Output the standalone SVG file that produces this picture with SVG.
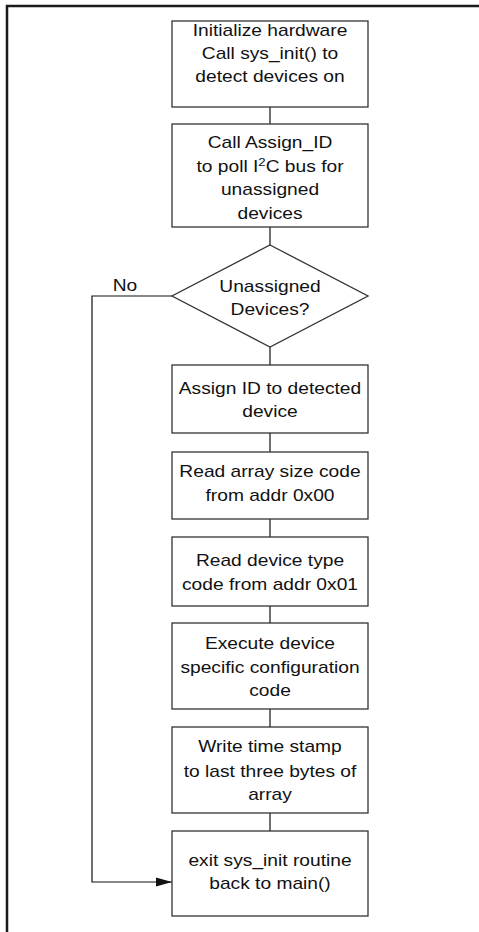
<svg xmlns="http://www.w3.org/2000/svg" width="479" height="932" viewBox="0 0 479 932">
<style>
.box{fill:#fff;stroke:#333;stroke-width:1.3}
.t{font-family:"Liberation Sans",Arial,sans-serif;font-size:16px;fill:#111;text-anchor:middle}
.c{fill:none;stroke:#111;stroke-width:1.2}
</style>
<defs>
<marker id="ah" markerWidth="16" markerHeight="10" refX="16" refY="5" orient="auto" markerUnits="userSpaceOnUse">
<path d="M0,0.5 L16,5 L0,9.5 Z" fill="#111"/>
</marker>
</defs>
<rect width="479" height="932" fill="#fff"/>
<path d="M7,932 V6 H479" fill="none" stroke="#1a1a1a" stroke-width="2.5"/>
<g id="connectors">
<line class="c" x1="270" y1="107" x2="270" y2="124"/>
<line class="c" x1="270" y1="227" x2="270" y2="245"/>
<line class="c" x1="270" y1="347" x2="270" y2="365"/>
<line class="c" x1="270" y1="433" x2="270" y2="452"/>
<line class="c" x1="270" y1="519" x2="270" y2="537"/>
<line class="c" x1="270" y1="606" x2="270" y2="623"/>
<line class="c" x1="270" y1="709" x2="270" y2="727"/>
<line class="c" x1="270" y1="813" x2="270" y2="831"/>
<path class="c" d="M172,296 H92 V882 H172" marker-end="url(#ah)"/>
<g transform="translate(125,0) scale(1.2,1)"><text class="t" x="0" y="291.5">No</text></g>
</g>
<g id="n1">
<rect class="box" x="172" y="21" width="196" height="86"/>
<g transform="translate(270,0) scale(1.2,1)">
<text class="t" x="0" y="36">Initialize hardware</text>
<text class="t" x="0" y="59.3">Call sys_init() to</text>
<text class="t" x="0" y="81.7">detect devices on</text>
</g>
</g>
<g id="n2">
<rect class="box" x="172" y="124" width="196" height="103"/>
<g transform="translate(270,0) scale(1.2,1)">
<text class="t" x="0" y="147.7">Call Assign_ID</text>
<text class="t" x="0" y="171.7">to poll I<tspan font-size="11" dy="-6">2</tspan><tspan dy="6">C bus for</tspan></text>
<text class="t" x="0" y="195.5">unassigned</text>
<text class="t" x="0" y="219.3">devices</text>
</g>
</g>
<g id="n3">
<polygon class="box" points="270,245 368,296 270,347 172,296"/>
<g transform="translate(270,0) scale(1.2,1)">
<text class="t" x="0" y="291.7">Unassigned</text>
<text class="t" x="0" y="315">Devices?</text>
</g>
</g>
<g id="n4">
<rect class="box" x="172" y="365" width="196" height="68"/>
<g transform="translate(270,0) scale(1.2,1)">
<text class="t" x="0" y="394">Assign ID to detected</text>
<text class="t" x="0" y="417.3">device</text>
</g>
</g>
<g id="n5">
<rect class="box" x="172" y="452" width="196" height="67"/>
<g transform="translate(270,0) scale(1.2,1)">
<text class="t" x="0" y="476.7">Read array size code</text>
<text class="t" x="0" y="500.7">from addr 0x00</text>
</g>
</g>
<g id="n6">
<rect class="box" x="172" y="537" width="196" height="69"/>
<g transform="translate(270,0) scale(1.2,1)">
<text class="t" x="0" y="565.7">Read device type</text>
<text class="t" x="0" y="590">code from addr 0x01</text>
</g>
</g>
<g id="n7">
<rect class="box" x="172" y="623" width="196" height="86"/>
<g transform="translate(270,0) scale(1.2,1)">
<text class="t" x="0" y="649">Execute device</text>
<text class="t" x="0" y="672.7">specific configuration</text>
<text class="t" x="0" y="696">code</text>
</g>
</g>
<g id="n8">
<rect class="box" x="172" y="727" width="196" height="86"/>
<g transform="translate(270,0) scale(1.2,1)">
<text class="t" x="0" y="752.3">Write time stamp</text>
<text class="t" x="0" y="776.7">to last three bytes of</text>
<text class="t" x="0" y="800">array</text>
</g>
</g>
<g id="n9">
<rect class="box" x="172" y="831" width="196" height="85"/>
<g transform="translate(270,0) scale(1.2,1)">
<text class="t" x="0" y="865.7">exit sys_init routine</text>
<text class="t" x="0" y="889.3">back to main()</text>
</g>
</g>
</svg>
